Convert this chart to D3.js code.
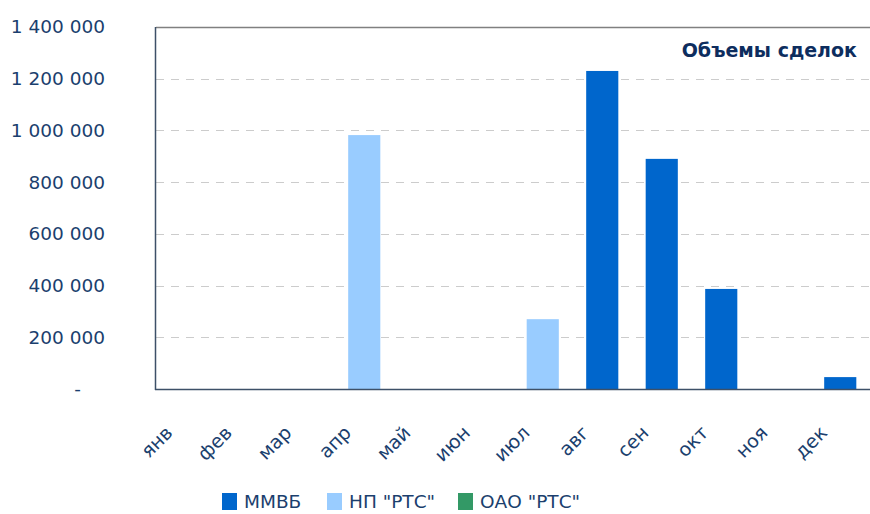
<!DOCTYPE html>
<html>
<head>
<meta charset="utf-8">
<script src="https://cdn.jsdelivr.net/npm/d3@7"></script>
<style>
  body { margin: 0; background: #fff; }
  text { font-family: "DejaVu Sans", sans-serif; }
</style>
</head>
<body>
<script>
// months and series
var months = ["янв", "фев", "мар", "апр", "май", "июн", "июл", "авг", "сен", "окт", "ноя", "дек"];
var mmvb   = [0, 0, 0, 0, 0, 0, 0, 1230000, 890000, 387000, 0, 46000];
var npRts  = [0, 0, 0, 982000, 0, 0, 270000, 0, 0, 0, 0, 0];
var oaoRts = [0, 0, 0, 0, 0, 0, 0, 0, 0, 0, 0, 0];
var seriesNames = ["ММВБ", "НП \"РТС\"", "ОАО \"РТС\""];
var yTicks = [0, 200000, 400000, 600000, 800000, 1000000, 1200000, 1400000];

var colors = ["#0066cc", "#99ccff", "#339966"];
var textColor = "#1b3f6e";

var width = 870, height = 514;
var plotLeft = 156, plotRight = 870, plotTop = 27, plotBottom = 389;

var svg = d3.select("body").append("svg")
    .attr("width", width)
    .attr("height", height);

var rows = months.map(function(m, i) {
    return {month: m, s0: mmvb[i], s1: npRts[i], s2: oaoRts[i]};
});
var stack = d3.stack().keys(["s0", "s1", "s2"]);
var layers = stack(rows);

var x = d3.scaleBand()
    .domain(months)
    .range([plotLeft, plotRight])
    .paddingInner(0.46)
    .paddingOuter(0.23);

var y = d3.scaleLinear()
    .domain([0, 1400000])
    .range([plotBottom, plotTop]);

// grid
svg.append("g").selectAll("line")
    .data(yTicks.filter(function(d) { return d > 0 && d < 1400000; }))
    .enter().append("line")
    .attr("x1", plotLeft).attr("x2", plotRight)
    .attr("y1", function(d) { return Math.round(y(d)) + 0.5; })
    .attr("y2", function(d) { return Math.round(y(d)) + 0.5; })
    .attr("stroke", "#cccccc")
    .attr("stroke-width", 1)
    .attr("stroke-dasharray", "8,7");

// top frame line
svg.append("line")
    .attr("x1", plotLeft).attr("x2", plotRight)
    .attr("y1", plotTop + 0.5).attr("y2", plotTop + 0.5)
    .attr("stroke", "#808080").attr("stroke-width", 1.5);

// bars
svg.append("g").selectAll("g")
    .data(layers)
    .enter().append("g")
    .attr("fill", function(d, i) { return colors[i]; })
    .selectAll("rect")
    .data(function(d) { return d; })
    .enter().append("rect")
    .attr("x", function(d) { return x(d.data.month); })
    .attr("y", function(d) { return y(d[1]); })
    .attr("width", x.bandwidth())
    .attr("height", function(d) { return y(d[0]) - y(d[1]); });

// axes lines
svg.append("line")
    .attr("x1", plotLeft - 0.5).attr("x2", plotLeft - 0.5)
    .attr("y1", plotTop).attr("y2", plotBottom + 1)
    .attr("stroke", "#3d5068").attr("stroke-width", 1.5);
svg.append("line")
    .attr("x1", plotLeft - 1).attr("x2", plotRight)
    .attr("y1", plotBottom + 0.5).attr("y2", plotBottom + 0.5)
    .attr("stroke", "#3d5068").attr("stroke-width", 1.5);

// y labels
var fmt = function(d) {
    if (d === 0) return "-";
    return d3.format(",")(d).replace(/,/g, " ");
};
svg.append("g").selectAll("text")
    .data(yTicks)
    .enter().append("text")
    .attr("x", function(d) { return d === 0 ? 81 : 105; })
    .attr("y", function(d) { return y(d); })
    .attr("dy", "0.35em")
    .attr("text-anchor", "end")
    .attr("font-size", 18.5)
    .attr("fill", textColor)
    .text(fmt);

// x labels rotated
svg.append("g").selectAll("text")
    .data(months)
    .enter().append("text")
    .attr("transform", function(d) {
        var cx = x(d) + x.bandwidth() / 2 - 12;
        return "translate(" + cx + ",434) rotate(-45)";
    })
    .attr("text-anchor", "end")
    .attr("font-size", 19)
    .attr("fill", textColor)
    .text(function(d) { return d; });

// title
svg.append("text")
    .attr("x", 857).attr("y", 57)
    .attr("text-anchor", "end")
    .attr("font-size", 19)
    .attr("font-weight", "bold")
    .attr("fill", "#0d2d5e")
    .text("Объемы сделок");

// legend
var legendX = [222, 327, 458];
var legend = svg.append("g").selectAll("g")
    .data(seriesNames)
    .enter().append("g")
    .attr("transform", function(d, i) { return "translate(" + legendX[i] + ",493)"; });
legend.append("rect")
    .attr("width", 15).attr("height", 17)
    .attr("fill", function(d, i) { return colors[i]; });
legend.append("text")
    .attr("x", 22).attr("y", 15)
    .attr("font-size", 18.5)
    .attr("fill", textColor)
    .text(function(d) { return d; });
</script>
</body>
</html>
